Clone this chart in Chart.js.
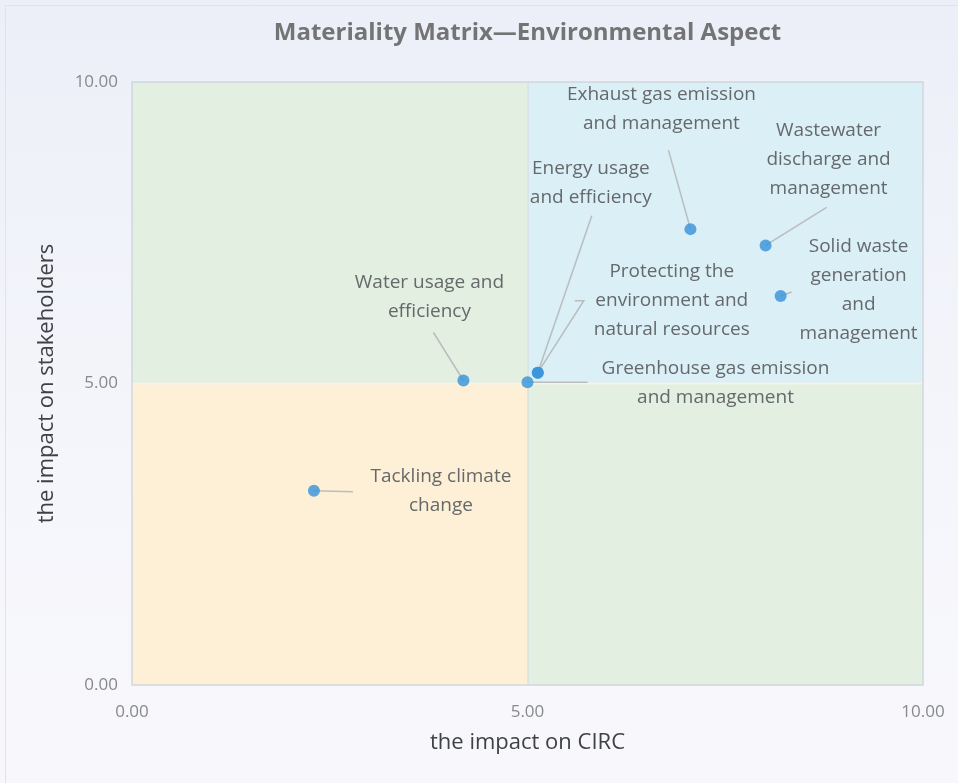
<!DOCTYPE html>
<html>
<head>
<meta charset="utf-8">
<script src="https://cdn.jsdelivr.net/npm/chart.js@4/dist/chart.umd.min.js"></script>
<style>
    html, body { margin: 0; padding: 0; }
    body {
        width: 958px; height: 783px; overflow: hidden; position: relative;
        background: linear-gradient(180deg, #eceff8 0%, #f5f6fb 60%, #f8f8fc 100%);
    }
    .frame { position: absolute; left: 5px; top: 5px; width: 960px; height: 790px; border: 1px solid #e0e3ec; box-sizing: border-box; }
    #wrap { position: absolute; left: 0; top: 0; width: 958px; height: 783px; }
</style>
</head>
<body>
<div class="frame"></div>
<div id="wrap"><canvas id="matrix"></canvas></div>
<script>
// topics shown in the matrix (line breaks as in the picture)
const topics = [
    ['Exhaust gas emission', 'and management'],
    ['Wastewater', 'discharge and', 'management'],
    ['Solid waste', 'generation', 'and', 'management'],
    ['Energy usage', 'and efficiency'],
    ['Protecting the', 'environment and', 'natural resources'],
    ['Greenhouse gas emission', 'and management'],
    ['Water usage and', 'efficiency'],
    ['Tackling climate', 'change']
];
const circImpact = [7.06, 8.01, 8.20, 5.13, 5.13, 5.00, 4.19, 2.30];
const stakeholderImpact = [7.56, 7.29, 6.45, 5.18, 5.18, 5.02, 5.05, 3.22];
const xTicks = [0, 5, 10];
const yTicks = [0, 5, 10];

// label placement relative to its point (pixels): centre of first line, then leader line bends
const labelOffsets = [[-29, -135], [63, -115], [78, -49], [53, -204], [134, -101], [188, -14], [-34, -98], [127, -14]];
const leaderPaths = [
    [[-22, -79]],
    [[61, -38]],
    [[11, -4]],
    [[54, -157]],
    [[46, -72], [37, -72]],
    [[60, 0]],
    [[-30, -48]],
    [[39, 1]]
];

const FONT = '"Open Sans", "Noto Sans", sans-serif';

const quadrantPlugin = {
    id: 'quadrants',
    beforeDatasetsDraw(chart) {
        const { ctx, chartArea: a, scales: { x, y } } = chart;
        const mx = x.getPixelForValue(5);
        const my = y.getPixelForValue(5);
        ctx.save();
        ctx.fillStyle = '#e2efe1';
        ctx.fillRect(a.left, a.top, mx - a.left, my - a.top);
        ctx.fillStyle = '#dbeff7';
        ctx.fillRect(mx, a.top, a.right - mx, my - a.top);
        ctx.fillStyle = '#fef0d6';
        ctx.fillRect(a.left, my, mx - a.left, a.bottom - my);
        ctx.fillStyle = '#e2efe1';
        ctx.fillRect(mx, my, a.right - mx, a.bottom - my);
        // dividing lines
        ctx.strokeStyle = '#d5dadd';
        ctx.lineWidth = 1;
        ctx.beginPath();
        ctx.moveTo(mx + 0.5, a.top);
        ctx.lineTo(mx + 0.5, a.bottom);
        ctx.stroke();
        ctx.strokeStyle = '#f6f3ea';
        ctx.lineWidth = 2;
        ctx.beginPath();
        ctx.moveTo(a.left, my);
        ctx.lineTo(a.right, my);
        ctx.stroke();
        // border
        ctx.strokeStyle = '#cfd8dc';
        ctx.lineWidth = 1.5;
        ctx.strokeRect(a.left, a.top, a.right - a.left, a.bottom - a.top);

        // leader lines
        ctx.strokeStyle = '#b9bdbd';
        ctx.lineWidth = 1.5;
        const meta = chart.getDatasetMeta(0);
        meta.data.forEach((pt, i) => {
            ctx.beginPath();
            ctx.moveTo(pt.x, pt.y);
            leaderPaths[i].forEach(p => ctx.lineTo(pt.x + p[0], pt.y + p[1]));
            ctx.stroke();
        });
        ctx.restore();
    },
    afterDatasetsDraw(chart) {
        const { ctx, chartArea: a } = chart;
        const meta = chart.getDatasetMeta(0);
        ctx.save();
        ctx.font = '19px ' + FONT;
        ctx.fillStyle = '#66696b';
        ctx.textAlign = 'center';
        ctx.textBaseline = 'middle';
        meta.data.forEach((pt, i) => {
            const [dx, dy] = labelOffsets[i];
            topics[i].forEach((line, k) => {
                ctx.fillText(line, pt.x + dx, pt.y + dy + k * 29);
            });
        });
        // title centred over the plot area
        ctx.font = 'bold 24px ' + FONT;
        ctx.fillStyle = '#747474';
        ctx.fillText('Materiality Matrix\u2014Environmental Aspect', (a.left + a.right) / 2, 33);
        ctx.restore();
    }
};

const ctx = document.getElementById('matrix').getContext('2d');
new Chart(ctx, {
    type: 'scatter',
    data: {
        datasets: [{
            label: 'Environmental',
            data: circImpact.map((v, i) => ({ x: v, y: stakeholderImpact[i] })),
            backgroundColor: 'rgba(52, 146, 218, 0.8)',
            borderColor: 'rgba(52, 146, 218, 0.8)',
            pointRadius: 6,
            pointHoverRadius: 6,
            borderWidth: 0
        }]
    },
    options: {
        responsive: true,
        maintainAspectRatio: false,
        animation: false,
        layout: { padding: { top: 82, right: 35, left: 0, bottom: 0 } },
        plugins: {
            legend: { display: false },
            tooltip: { enabled: false }
        },
        scales: {
            x: {
                type: 'linear',
                min: 0, max: 10,
                afterFit: s => { s.height = 98; s.paddingLeft = 0; s.paddingRight = 0; },
                afterBuildTicks: s => { s.ticks = xTicks.map(v => ({ value: v })); },
                grid: { display: false, drawTicks: false },
                border: { display: false },
                ticks: {
                    padding: 17,
                    color: '#878a8c',
                    font: { family: FONT, size: 17 },
                    callback: v => Number(v).toFixed(2)
                },
                title: {
                    display: true,
                    text: 'the impact on CIRC',
                    color: '#3f4244',
                    font: { family: FONT, size: 22 },
                    padding: { top: 0, bottom: 27 }
                }
            },
            y: {
                type: 'linear',
                min: 0, max: 10,
                afterFit: s => { s.width = 132; },
                afterBuildTicks: s => { s.ticks = yTicks.map(v => ({ value: v })); },
                grid: { display: false, drawTicks: false },
                border: { display: false },
                ticks: {
                    padding: 14,
                    color: '#878a8c',
                    font: { family: FONT, size: 17 },
                    callback: v => Number(v).toFixed(2)
                },
                title: {
                    display: true,
                    text: 'the impact on stakeholders',
                    color: '#3f4244',
                    font: { family: FONT, size: 22 },
                    padding: { top: 34, bottom: 0 }
                }
            }
        }
    },
    plugins: [quadrantPlugin]
});
</script>
</body>
</html>
